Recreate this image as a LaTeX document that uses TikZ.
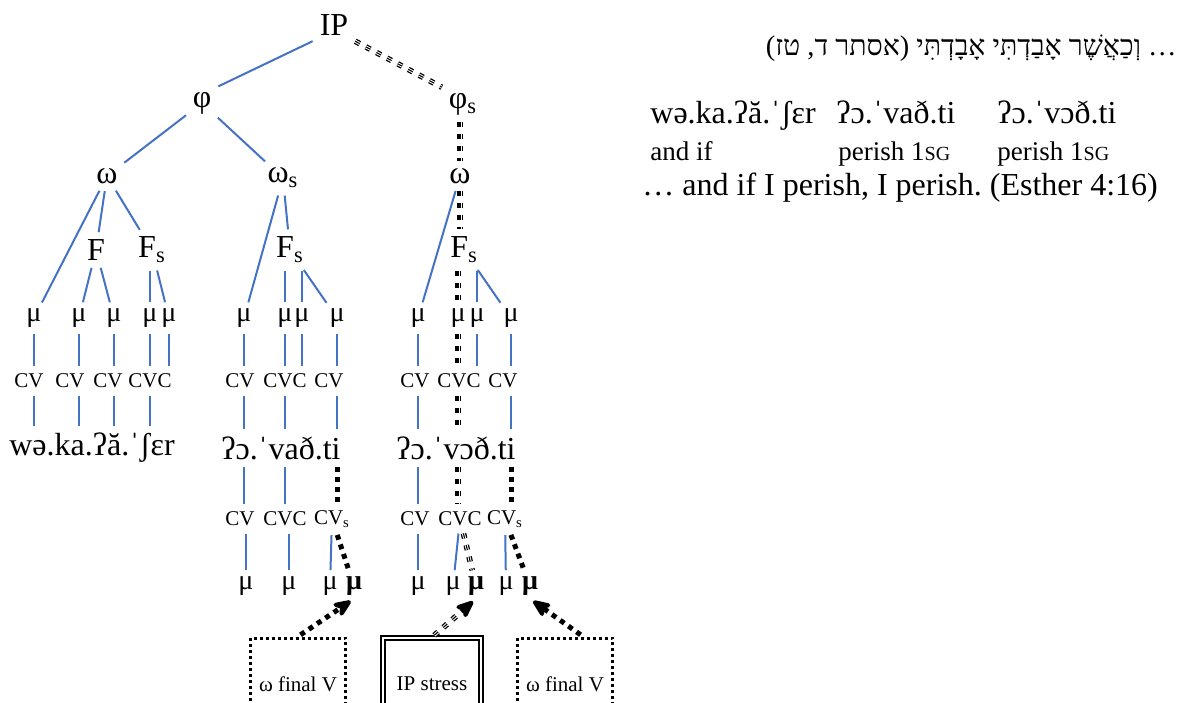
\documentclass[tikz,border=0pt]{standalone}
\usepackage{fontspec}
\setmainfont{Liberation Serif}
\newfontfamily\hebfont[Script=Hebrew]{Liberation Serif}
\usetikzlibrary{arrows.meta}
\TeXXeTstate=1
\frenchspacing
\definecolor{treeblue}{HTML}{4472C4}
\newcommand{\smallsg}{{\fontsize{10}{10}\selectfont SG}}

\begin{document}
\begin{tikzpicture}[x=0.5pt, y=-0.5pt,
	big/.style = {font=\fontsize{16}{18}\selectfont, inner sep=2pt},
	small/.style = {font=\fontsize{10.5}{12}\selectfont, inner sep=2pt},
	mu/.style = {font=\fontsize{14}{14}\selectfont, inner sep=1.5pt},
	bmu/.style = {font=\fontsize{14}{14}\selectfont\bfseries, inner sep=1.5pt},
	rt/.style = {font=\fontsize{16}{18}\selectfont, anchor=base west, inner sep=0pt},
	gl/.style = {font=\fontsize{13.5}{16}\selectfont, anchor=base west, inner sep=0pt},
	tline/.style = {treeblue, line width=1pt, shorten <=1.5pt, shorten >=1.5pt},
	ipline/.style = {line width=2.8pt, dash pattern=on 2.5pt off 3.5pt, shorten <=1.5pt, shorten >=1.5pt,
		postaction={draw, white, line width=1.5pt, -},
		postaction={draw, black, line width=0.55pt, -}},
	iparrow/.style = {line width=2.8pt, dash pattern=on 2.5pt off 3.5pt, shorten <=1.5pt, shorten >=2pt,
		-{Stealth[length=12pt, width=10pt, round]},
		postaction={draw, white, line width=1.5pt, -, shorten >=13pt},
		postaction={draw, black, line width=0.55pt, -, shorten >=13pt}},
	wline/.style = {line width=2.5pt, dash pattern=on 2.5pt off 2.5pt, shorten <=1.5pt, shorten >=1.5pt},
	warrow/.style = {wline, shorten >=2pt, -{Stealth[length=12pt, width=10pt, round]}},
	dbox/.style = {small, draw, line width=1.5pt, dash pattern=on 1.5pt off 1.5pt, minimum width=47.5pt, minimum height=46pt},
	sbox/.style = {small, draw, double, line width=0.7pt, double distance=1.3pt, minimum width=49pt, minimum height=46pt}]
	\useasboundingbox (0,0) rectangle (1187,702);
	\clip (0,0) rectangle (1187,702);

	\node[big] (ip) at (334,25) {IP};
	\node[big] (phi) at (202,103) {φ};
	\node[big] (phis) at (463,104) {φ\textsubscript{s}};
	\node[big] (w1) at (107,176) {ω};
	\node[big] (ws) at (283,178) {ω\textsubscript{s}};
	\node[big] (w3) at (460,176) {ω};
	\node[big] (f1) at (96,250) {F};
	\node[big] (fs1) at (152,250) {F\textsubscript{s}};
	\node[big] (fs2) at (290,250) {F\textsubscript{s}};
	\node[big] (fs3) at (464,250) {F\textsubscript{s}};

	\node[mu] (ma) at (34,318) {μ};
	\node[mu] (mb) at (79,318) {μ};
	\node[mu] (mc) at (114,318) {μ};
	\node[mu] (md) at (150,318) {μ};
	\node[mu] (me) at (169,318) {μ};
	\node[mu] (mf) at (244,318) {μ};
	\node[mu] (mg) at (285,318) {μ};
	\node[mu] (mh) at (302,318) {μ};
	\node[mu] (mi) at (337,318) {μ};
	\node[mu] (mj) at (418,318) {μ};
	\node[mu] (mk) at (458,318) {μ};
	\node[mu] (ml) at (477,318) {μ};
	\node[mu] (mm) at (511,318) {μ};

	\node[small] (ca) at (29,381) {CV};
	\node[small] (cb) at (70,381) {CV};
	\node[small] (cc) at (108,381) {CV};
	\node[small] (cd) at (150,381) {CVC};
	\node[small] (ce) at (240,381) {CV};
	\node[small] (cf) at (285,381) {CVC};
	\node[small] (cg) at (329,381) {CV};
	\node[small] (ch) at (415,381) {CV};
	\node[small] (ci) at (459,381) {CVC};
	\node[small] (cj) at (503,381) {CV};

	\node[big] (wa) at (92,448) {wə.ka.ʔă.ˈʃɛr};
	\node[big] (wb) at (281,448) {ʔɔ.ˈvað.ti};
	\node[big] (wc) at (456,448) {ʔɔ.ˈvɔð.ti};

	\node[small] (da) at (240,519) {CV};
	\node[small] (db) at (285,519) {CVC};
	\node[small] (dc) at (332,519) {CV\textsubscript{s}};
	\node[small] (dd) at (415,519) {CV};
	\node[small] (de) at (460,519) {CVC};
	\node[small] (df) at (505,519) {CV\textsubscript{s}};

	\node[mu] (na) at (246,586) {μ};
	\node[mu] (nb) at (289,586) {μ};
	\node[mu] (nc) at (330,586) {μ};
	\node[bmu] (nd) at (354,586) {μ};
	\node[mu] (ne) at (418,586) {μ};
	\node[mu] (nf) at (453,586) {μ};
	\node[bmu] (ng) at (476,586) {μ};
	\node[mu] (nh) at (506,586) {μ};
	\node[bmu] (ni) at (530,586) {μ};

	\node[dbox] (b1) at (298,684) {ω final V};
	\node[sbox] (b2) at (432,684) {IP stress};
	\node[dbox] (b3) at (565,684) {ω final V};

	\node[anchor=base east, inner sep=0pt, font=\fontsize{14.2}{18}\selectfont\hebfont] (heb) at (1177,55)
		{\beginR … וְכַאֲשֶׁר אָבַדְתִּי אָבָדְתִּי (אסתר ד, טז)\endR};
	\node[rt] (ra) at (650,123) {wə.ka.ʔă.ˈʃɛr};
	\node[rt] (rb) at (836,123) {ʔɔ.ˈvað.ti};
	\node[rt] (rc) at (997,123) {ʔɔ.ˈvɔð.ti};
	\node[gl] (ga) at (650,160) {and if};
	\node[gl] (gb) at (838,160) {perish 1\smallsg};
	\node[gl] (gc) at (997,160) {perish 1\smallsg};
	\node[rt] (tr) at (642,195) {… and if I perish, I perish. (Esther 4:16)};

	\draw[tline] (ip.south west) -- (phi.north east);
	\draw[ipline] (ip.south east) -- (phis.north west);
	\draw[tline] (phi) -- (w1);
	\draw[tline] (phi) -- (ws);
	\draw[ipline] (w3 |- phis.south) -- (w3);
	\draw[tline] (w1) -- (ma);
	\draw[tline] (w1) -- (f1);
	\draw[tline] (w1) -- (fs1);
	\draw[tline] (f1) -- (mb);
	\draw[tline] (f1) -- (mc);
	\draw[tline] (md |- fs1.south) -- (md);
	\draw[tline] (fs1) -- (me);
	\draw[tline] (ws) -- (mf);
	\draw[tline] (ws) -- (fs2);
	\draw[tline] (mg |- fs2.south) -- (mg);
	\draw[tline] (mh |- fs2.south) -- (mh);
	\draw[tline] (fs2) -- (mi);
	\draw[tline] (w3) -- (mj);
	\draw[ipline] (w3) -- (w3 |- fs3.north);
	\draw[ipline] (mk |- fs3.south) -- (mk);
	\draw[tline] (ml |- fs3.south) -- (ml);
	\draw[tline] (fs3) -- (mm);

	\draw[tline] (ma) -- (ma |- ca.north);
	\draw[tline] (mb) -- (mb |- cb.north);
	\draw[tline] (mc) -- (mc |- cc.north);
	\draw[tline] (md) -- (md |- cd.north);
	\draw[tline] (me) -- (me |- cd.north);
	\draw[tline] (mf) -- (mf |- ce.north);
	\draw[tline] (mg) -- (mg |- cf.north);
	\draw[tline] (mh) -- (mh |- cf.north);
	\draw[tline] (mi) -- (mi |- cg.north);
	\draw[tline] (mj) -- (mj |- ch.north);
	\draw[ipline] (mk) -- (mk |- ci.north);
	\draw[tline] (ml) -- (ml |- ci.north);
	\draw[tline] (mm) -- (mm |- cj.north);

	\draw[tline] (ma |- ca.south) -- (ma |- wa.north);
	\draw[tline] (mb |- cb.south) -- (mb |- wa.north);
	\draw[tline] (mc |- cc.south) -- (mc |- wa.north);
	\draw[tline] (md |- cd.south) -- (md |- wa.north);
	\draw[tline] (mf |- ce.south) -- (mf |- wb.north);
	\draw[tline] (mg |- cf.south) -- (mg |- wb.north);
	\draw[tline] (mi |- cg.south) -- (mi |- wb.north);
	\draw[tline] (mj |- ch.south) -- (mj |- wc.north);
	\draw[ipline] (mk |- ci.south) -- (mk |- wc.north);
	\draw[tline] (mm |- cj.south) -- (mm |- wc.north);

	\draw[tline] (mf |- wb.south) -- (mf |- da.north);
	\draw[tline] (mg |- wb.south) -- (mg |- db.north);
	\draw[wline] (mi |- wb.south) -- (mi |- dc.north);
	\draw[tline] (mj |- wc.south) -- (mj |- dd.north);
	\draw[ipline] (mk |- wc.south) -- (mk |- de.north);
	\draw[wline] (mm |- wc.south) -- (mm |- df.north);

	\draw[tline] (na |- da.south) -- (na);
	\draw[tline] (nb |- db.south) -- (nb);
	\draw[tline] (dc) -- (nc);
	\draw[wline] (dc) -- (nd);
	\draw[tline] (ne |- dd.south) -- (ne);
	\draw[tline] (de) -- (nf);
	\draw[ipline] (de) -- (ng);
	\draw[tline] (df) -- (nh);
	\draw[wline] (df) -- (ni);

	\draw[warrow] (b1.north) -- (nd.south);
	\draw[iparrow] (b2.north) -- (ng.south);
	\draw[warrow] ([xshift=9pt]b3.north) -- (ni.south);
\end{tikzpicture}
\end{document}
